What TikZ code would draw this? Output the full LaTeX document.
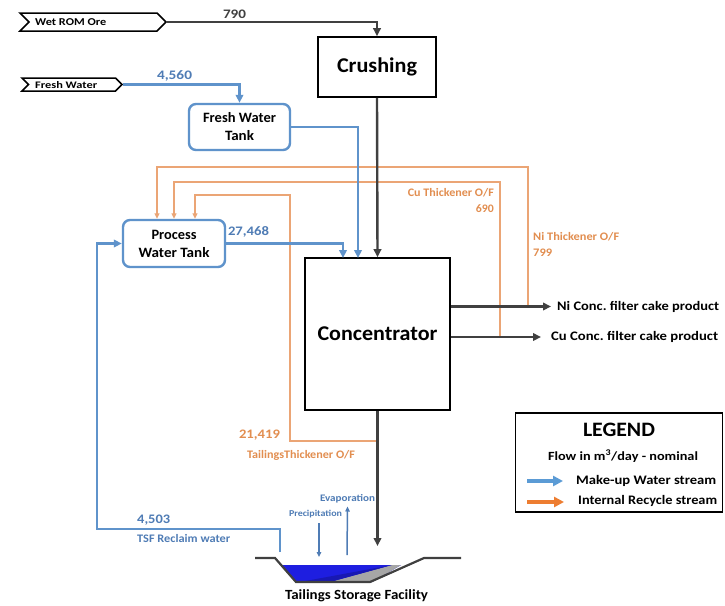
\documentclass[tikz,border=0pt]{standalone}
\usepackage{fontspec}
\usepackage{graphicx}
\setmainfont{Carlito}
\usetikzlibrary{arrows.meta,shapes.symbols,calc}
\definecolor{dk}{HTML}{404040}
\definecolor{bl}{HTML}{5F93CB}
\definecolor{blt}{HTML}{4F7CB5}
\definecolor{org}{HTML}{EBA575}
\definecolor{orgt}{HTML}{E28E50}
\definecolor{lgbl}{HTML}{5B9BD5}
\definecolor{lgor}{HTML}{ED7D31}
\definecolor{pond}{HTML}{1E1EE0}
\frenchspacing
\newsavebox\fitbox
\newcommand\fitto[2]{\sbox\fitbox{#2}\pgfmathsetmacro\fitf{#1/\the\wd\fitbox}\scalebox{\fitf}[1]{\usebox\fitbox}}
\begin{document}
\begin{tikzpicture}[x=1pt,y=-1pt,font=\bfseries,
  boxn/.style={draw=black,line width=1.6pt,inner sep=0pt},
  tank/.style={draw=bl,line width=2.4pt,rounded corners=7pt,align=center,inner sep=0pt,
    minimum width=101pt,minimum height=46pt,font=\bfseries\fontsize{14.3}{18}\selectfont},
  tag/.style={draw=black,line width=1.5pt,signal,signal to=east,signal from=west,inner sep=0pt},
  tagtxt/.style={anchor=west,inner sep=0pt,font=\bfseries\fontsize{10.5}{12}\selectfont},
  num/.style={inner sep=0pt,font=\bfseries\fontsize{13}{15}\selectfont},
  olab/.style={inner sep=0pt,text=orgt,font=\bfseries\fontsize{11.5}{16}\selectfont},
  dkline/.style={draw=dk,line width=2.4pt,-{Triangle[length=8pt,width=7.5pt]}},
  blline/.style={draw=bl,line width=2.5pt,-{Triangle[length=8pt,width=7.5pt]}},
  orline/.style={draw=org,line width=1.8pt,-{Triangle[length=5.5pt,width=5pt]}},
  prod/.style={anchor=west,inner ysep=0pt,font=\bfseries\fontsize{13}{15}\selectfont},
  thinbl/.style={draw=blt,line width=1.5pt,-{Triangle[length=5pt,width=4.5pt]}},
]
\useasboundingbox[fill=white] (0,0) rectangle (725,605);

% nodes
\node[tag,minimum width=146pt,minimum height=18pt] (wet) at (93,22) {};
\node[tagtxt] (wettxt) at (35,22.5) {\fitto{71}{Wet ROM Ore}};
\node[tag,minimum width=100pt,minimum height=13pt] (fw) at (72,84.5) {};
\node[tagtxt,font=\bfseries\fontsize{10}{11}\selectfont] (fwtxt) at (35,85) {\fitto{62}{Fresh Water}};
\node[boxn,minimum width=118pt,minimum height=60pt,font=\bfseries\fontsize{21}{24}\selectfont] (crush) at (377,67) {\fitto{80}{Crushing}};
\node[tank] (fwt) at (239.5,127) {\fitto{73}{Fresh Water}\\\fitto{29}{Tank}};
\node[tank,minimum width=102pt,minimum height=47pt] (pwt) at (174,243.5) {\fitto{45}{Process}\\\fitto{71}{Water Tank}};
\node[boxn,minimum width=145pt,minimum height=152pt,font=\bfseries\fontsize{21}{24}\selectfont] (conc) at (377.5,334) {\fitto{120}{Concentrator}};

% coordinates
\coordinate (cinA) at (343,258);
\coordinate (cinB) at (358,258);
\coordinate (niT) at (528,306.5);
\coordinate (cuT) at (500,337);
\coordinate (tlT) at (377.5,441);
\coordinate (p1) at ($(pwt.north)+(-17,0)$);
\coordinate (p3) at ($(pwt.north)+(21,0)$);
\coordinate (tsfin) at (377.5,546);
\coordinate (rc) at (280,552);

% orange recycle lines
\draw[orline] (niT) -- (528,167) -- (157,167) -- (p1);
\draw[orline] (cuT) -- (500,182) -- (174,182) -- (pwt.north);
\draw[orline] (tlT) -- (290,441) -- (290,195) -- (195,195) -- (p3);

% products
\node[prod,inner xsep=6pt] (ni) at (551,306.5) {\fitto{162}{Ni Conc. filter cake product}};
\node[prod,inner xsep=10pt] (cu) at (541,337) {\fitto{167}{Cu Conc. filter cake product}};
\draw[dkline] (conc.east |- ni.west) -- (ni.west);
\draw[dkline] (conc.east |- cu.west) -- (cu.west);

% main flows
\draw[dkline] (wet.east) -| (crush.north);
\draw[dkline] (crush.south) -- (conc.north);
\draw[blline] (fw.east) -| (fwt.north);
\draw[blline] (fwt.east) -| (cinB);
\draw[blline] (pwt.east) -| (cinA);
\draw[dkline] (conc.south) -- (tsfin);
\draw[blline] (rc) -- (280,529) -- (97,529) -- (97,243.5) -- (pwt.west);

% labels
\node[num,text=dk] (l790) at (234.5,14) {\fitto{23}{790}};
\node[num,text=blt] (l4560) at (174.5,76) {\fitto{35}{4,560}};
\node[num,text=blt] (l27468) at (248.5,232) {\fitto{41}{27,468}};
\node[olab,anchor=east,align=right] (lcu) at (494,201) {\fitto{86}{Cu Thickener O/F}\\\fitto{18}{690}};
\node[olab,anchor=west,align=left] (lni) at (533,244) {\fitto{86}{Ni Thickener O/F}\\\fitto{19}{799}};
\node[num,text=orgt] (l21419) at (259.5,435) {\fitto{41}{21,419}};
\node[olab] (ltl) at (301,455) {\fitto{108}{TailingsThickener O/F}};
\node[num,text=blt,anchor=west] (l4503) at (137,520) {\fitto{33}{4,503}};
\node[olab,text=blt,anchor=west] (ltsf) at (137,538) {\fitto{93}{TSF Reclaim water}};

% precipitation / evaporation
\node[inner sep=0pt,text=blt,font=\bfseries\fontsize{9}{10}\selectfont] (prec) at (315.5,514) {\fitto{53}{Precipitation}};
\node[inner sep=0pt,text=blt,font=\bfseries\fontsize{10}{11}\selectfont] (evap) at (347.5,499) {\fitto{55}{Evaporation}};
\draw[thinbl] (319,523) -- (319,557);
\draw[thinbl] (347,555) -- ($(evap.south)+(0,3)$);

% pond
\fill[pond] (281,565) -- (401,565) -- (372,582) -- (296,582) -- cycle;
\fill[gray!70] (330,582) -- (372,582) -- (401,565) -- (392,565) -- cycle;
\fill[pond!80!black] (300,582) -- (330,582) -- (392,565) -- cycle;
\draw[dk,line width=2.2pt] (255,558) -- (275,558) -- (296,582) -- (370,582) -- (424,558) -- (461,558);
\node[inner sep=0pt,font=\bfseries\fontsize{14}{16}\selectfont] (tsf) at (356.5,596) {\fitto{143}{Tailings Storage Facility}};

% legend
\node[draw=black,line width=1.6pt,minimum width=207pt,minimum height=99pt,inner sep=0pt] (leg) at (619,462.5) {};
\node[inner sep=0pt,font=\bfseries\fontsize{20.5}{22}\selectfont] (legt) at (619,430) {\fitto{72}{LEGEND}};
\node[inner sep=0pt,font=\bfseries\fontsize{12.5}{14}\selectfont] (legf) at (623,456) {\fitto{150}{Flow in m\textsuperscript{3}/day - nominal}};
\node[prod,inner xsep=0pt] (legb) at (576,481) {\fitto{140}{Make-up Water stream}};
\node[prod,inner xsep=0pt] (lego) at (578,501) {\fitto{139}{Internal Recycle stream}};
\coordinate (lb0) at (527,481);
\coordinate (lo0) at (527,502);
\draw[lgbl,line width=3.5pt,-{Triangle[length=10pt,width=10pt]}] (lb0) -- ($(legb.west)+(-13,0)$);
\draw[lgor,line width=3.5pt,-{Triangle[length=10pt,width=10pt]}] (lo0) -- ($(lego.west)+(-14,1)$);
\end{tikzpicture}
\end{document}
